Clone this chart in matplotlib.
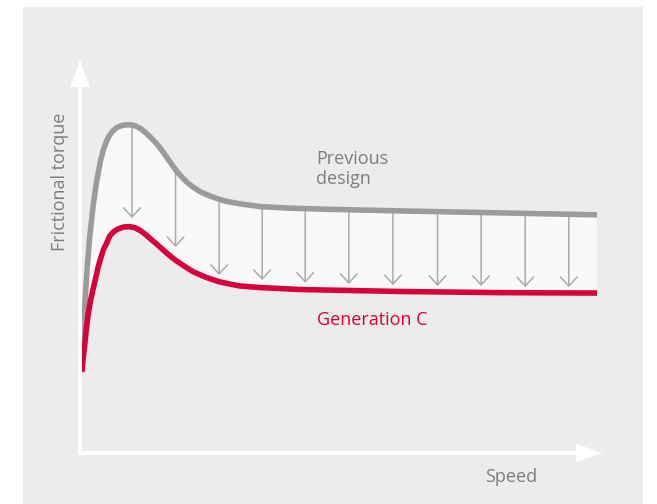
import numpy as np
import matplotlib
matplotlib.use("Agg")
import matplotlib.pyplot as plt

# schematic units: speed 0..100 along the x arrow, torque 0..100 along the y arrow
prev_speed = [0.29, 0.76, 1.01, 1.39, 1.85, 2.48, 3.10, 3.94, 4.45, 5.01, 5.6, 6.29,
              7.0, 7.87, 8.8, 9.66, 10.6, 11.6, 12.6, 13.6, 14.6, 15.6, 16.6, 17.6,
              18.6, 19.6, 20.6, 21.6, 23.0, 24.76, 26.2, 27.62, 30.48, 34.29,
              40.0, 47.6, 60.95, 80.0, 98.48]
prev_torque = [27.5, 33.1, 39.8, 47.4, 55.0, 62.7, 68.6, 74.6, 77.1, 79.2, 80.8, 82.0,
               82.8, 83.3, 83.5, 83.5, 83.2, 82.5, 81.4, 80.1, 78.7, 77.0, 75.1, 73.2,
               71.4, 69.9, 68.6, 67.6, 66.4, 65.4, 64.7, 64.1, 63.4, 62.7,
               62.3, 62.0, 61.6, 61.1, 60.6]

genc_speed = [0.34, 0.63, 0.95, 1.2, 1.52, 2.0, 2.48, 3.0, 3.43, 4.0, 4.5, 5.0, 5.66,
              6.4, 7.24, 8.3, 9.47, 10.5, 11.5, 12.5, 13.5, 14.5, 15.5, 16.57, 17.4,
              18.15, 19.81, 21.58, 23.81, 26.42, 28.5, 30.48, 34.29, 41.9,
              60.95, 80.0, 98.48]
genc_torque = [20.6, 24.4, 28.2, 31.5, 35.0, 38.8, 41.6, 44.6, 47.2, 49.8, 51.9, 53.2, 55.2,
               56.3, 57.0, 57.5, 57.6, 57.3, 56.6, 55.6, 54.4, 53.3, 52.1, 50.8, 49.9,
               49.1, 47.6, 46.1, 44.8, 43.6, 43.0, 42.5, 42.1, 41.6,
               41.1, 40.8, 40.7]

arrow_speed = [9.9, 18.2, 26.5, 34.7, 42.9, 51.2, 59.6, 68.1, 76.4, 84.8, 93.1]
arrow_tip = [59.8, 52.4, 45.3, 44.0, 43.3, 43.0, 42.7, 42.5, 42.5, 42.2, 42.2]

label_prev = "Previous\ndesign"
label_genc = "Generation C"
xlabel = "Speed"
ylabel = "Frictional torque"

GREY_LINE = "#9b9b9b"
RED = "#d7003a"
TEXT_GREY = "#7d7d7d"
PANEL = "#ececec"

# pixel layout of the figure
W, H = 657, 504
ox, oy = 80, 453          # axis corner in pixels
sx, sy = 5.25, 3.93       # pixels per unit
left, right, top = 23, 643, 7

plt.rcParams['font.family'] = ['Open Sans', 'DejaVu Sans']

fig = plt.figure(figsize=(W / 100, H / 100), dpi=100)
ax = fig.add_axes([left / W, 0, (right - left) / W, (H - top) / H])
ax.set_facecolor(PANEL)
ax.set_xlim((left - ox) / sx, (right - ox) / sx)
ax.set_ylim((oy - H) / sy, (oy - top) / sy)
ax.set_xticks([])
ax.set_yticks([])
for s in ax.spines.values():
    s.set_visible(False)

# band between the two curves
band_x = np.concatenate([prev_speed, genc_speed[::-1]])
band_y = np.concatenate([prev_torque, genc_torque[::-1]])
ax.fill(band_x, band_y, color="#f9f9f9", lw=0, zorder=1)

# reduction arrows
arrow_top = np.interp(arrow_speed, prev_speed, prev_torque)
for x, y0, y1 in zip(arrow_speed, arrow_top, arrow_tip):
    ax.annotate("", xy=(x, y1), xytext=(x, y0),
                arrowprops=dict(arrowstyle="->,head_length=0.65,head_width=0.6",
                                mutation_scale=10, color="#ababab", lw=1.1,
                                shrinkA=0, shrinkB=0),
                zorder=2)

ax.plot(prev_speed, prev_torque, color=GREY_LINE, lw=4, solid_capstyle="butt",
        solid_joinstyle="round", zorder=3)
ax.plot(genc_speed, genc_torque, color=RED, lw=4, solid_capstyle="butt",
        solid_joinstyle="round", zorder=3)

# white axis arrows
ax.arrow(0, -2 / sy, 0, 100 + 2 / sy, width=4 / sx, head_width=20 / sx,
         head_length=27 / sy, length_includes_head=True, color="white", lw=0, zorder=4)
ax.arrow(-2 / sx, 0, 99.6 + 2 / sx, 0, width=4 / sy, head_width=18 / sy,
         head_length=27 / sx, length_includes_head=True, color="white", lw=0, zorder=4)

ax.text(44.95, 68.4, label_prev, color=TEXT_GREY, fontsize=13, va="baseline",
        linespacing=1.15)
ax.text(45.1, 32.6, label_genc, color=RED, fontsize=13, va="baseline")
ax.text(77.1, -7.3, xlabel, color=TEXT_GREY, fontsize=13, va="baseline")
ax.text(-2.86, 69.1, ylabel, color=TEXT_GREY, fontsize=13, rotation=90,
        rotation_mode="anchor", ha="center", va="baseline")

fig.savefig("out.png", dpi=100, facecolor="white")
